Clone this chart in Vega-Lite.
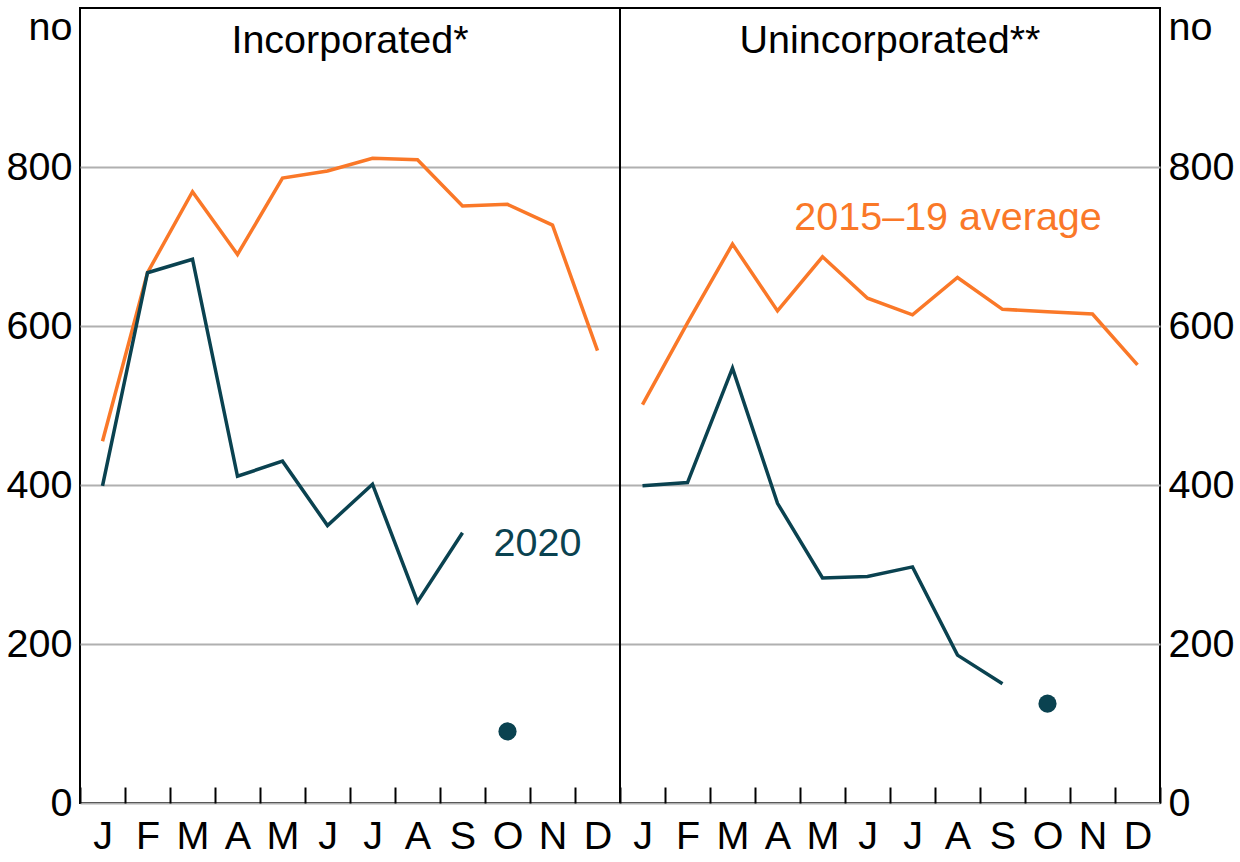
{
  "$schema": "https://vega.github.io/schema/vega-lite/v6.json",
  "width": 1080,
  "height": 795,
  "autosize": "none",
  "padding": {"left": 80, "top": 8, "right": 80, "bottom": 59},
  "background": "white",
  "config": {
    "font": "Liberation Sans",
    "view": {"stroke": "black", "strokeWidth": 2},
    "axis": {
      "labelFont": "Liberation Sans",
      "labelFontSize": 39.5,
      "labelColor": "black",
      "titleFont": "Liberation Sans",
      "titleFontSize": 39.5,
      "titleFontWeight": "normal",
      "titleColor": "black",
      "domain": false
    }
  },
  "datasets": {
    "lines": [
      {"panel": "Incorporated", "series": "2015–19 average", "slot": "I01", "value": 455},
      {"panel": "Incorporated", "series": "2015–19 average", "slot": "I02", "value": 667},
      {"panel": "Incorporated", "series": "2015–19 average", "slot": "I03", "value": 769},
      {"panel": "Incorporated", "series": "2015–19 average", "slot": "I04", "value": 690},
      {"panel": "Incorporated", "series": "2015–19 average", "slot": "I05", "value": 786},
      {"panel": "Incorporated", "series": "2015–19 average", "slot": "I06", "value": 795},
      {"panel": "Incorporated", "series": "2015–19 average", "slot": "I07", "value": 811},
      {"panel": "Incorporated", "series": "2015–19 average", "slot": "I08", "value": 809},
      {"panel": "Incorporated", "series": "2015–19 average", "slot": "I09", "value": 751},
      {"panel": "Incorporated", "series": "2015–19 average", "slot": "I10", "value": 753},
      {"panel": "Incorporated", "series": "2015–19 average", "slot": "I11", "value": 727},
      {"panel": "Incorporated", "series": "2015–19 average", "slot": "I12", "value": 569},
      {"panel": "Incorporated", "series": "2020", "slot": "I01", "value": 399},
      {"panel": "Incorporated", "series": "2020", "slot": "I02", "value": 667},
      {"panel": "Incorporated", "series": "2020", "slot": "I03", "value": 684},
      {"panel": "Incorporated", "series": "2020", "slot": "I04", "value": 411},
      {"panel": "Incorporated", "series": "2020", "slot": "I05", "value": 430},
      {"panel": "Incorporated", "series": "2020", "slot": "I06", "value": 349},
      {"panel": "Incorporated", "series": "2020", "slot": "I07", "value": 401},
      {"panel": "Incorporated", "series": "2020", "slot": "I08", "value": 253},
      {"panel": "Incorporated", "series": "2020", "slot": "I09", "value": 340},
      {"panel": "Unincorporated", "series": "2015–19 average", "slot": "U01", "value": 501},
      {"panel": "Unincorporated", "series": "2015–19 average", "slot": "U02", "value": 604},
      {"panel": "Unincorporated", "series": "2015–19 average", "slot": "U03", "value": 703},
      {"panel": "Unincorporated", "series": "2015–19 average", "slot": "U04", "value": 619},
      {"panel": "Unincorporated", "series": "2015–19 average", "slot": "U05", "value": 687},
      {"panel": "Unincorporated", "series": "2015–19 average", "slot": "U06", "value": 635},
      {"panel": "Unincorporated", "series": "2015–19 average", "slot": "U07", "value": 614},
      {"panel": "Unincorporated", "series": "2015–19 average", "slot": "U08", "value": 661},
      {"panel": "Unincorporated", "series": "2015–19 average", "slot": "U09", "value": 621},
      {"panel": "Unincorporated", "series": "2015–19 average", "slot": "U10", "value": 618},
      {"panel": "Unincorporated", "series": "2015–19 average", "slot": "U11", "value": 615},
      {"panel": "Unincorporated", "series": "2015–19 average", "slot": "U12", "value": 551},
      {"panel": "Unincorporated", "series": "2020", "slot": "U01", "value": 399},
      {"panel": "Unincorporated", "series": "2020", "slot": "U02", "value": 403},
      {"panel": "Unincorporated", "series": "2020", "slot": "U03", "value": 547},
      {"panel": "Unincorporated", "series": "2020", "slot": "U04", "value": 377},
      {"panel": "Unincorporated", "series": "2020", "slot": "U05", "value": 283},
      {"panel": "Unincorporated", "series": "2020", "slot": "U06", "value": 285},
      {"panel": "Unincorporated", "series": "2020", "slot": "U07", "value": 297},
      {"panel": "Unincorporated", "series": "2020", "slot": "U08", "value": 186},
      {"panel": "Unincorporated", "series": "2020", "slot": "U09", "value": 150}
    ],
    "points": [
      {"panel": "Incorporated", "series": "2020", "slot": "I10", "value": 90},
      {"panel": "Unincorporated", "series": "2020", "slot": "U10", "value": 125}
    ]
  },
  "resolve": {"axis": {"x": "independent", "y": "independent"}},
  "layer": [
    {
      "data": {"name": "lines"},
      "mark": {"type": "line", "strokeWidth": 3.5},
      "encoding": {
        "x": {
          "field": "slot",
          "type": "ordinal",
          "scale": {
            "type": "band",
            "domain": ["I01","I02","I03","I04","I05","I06","I07","I08","I09","I10","I11","I12","U01","U02","U03","U04","U05","U06","U07","U08","U09","U10","U11","U12"],
            "paddingInner": 0,
            "paddingOuter": 0
          },
          "axis": {
            "title": null,
            "tickBand": "extent",
            "tickSize": -16,
            "tickWidth": 2,
            "tickColor": "black",
            "labelPadding": 30,
            "labelAngle": 0,
            "grid": false,
            "labelExpr": "['J','F','M','A','M','J','J','A','S','O','N','D'][toNumber(substring(datum.value,1,3))-1]"
          }
        },
        "y": {
          "field": "value",
          "type": "quantitative",
          "scale": {"domain": [0, 1000], "nice": false},
          "axis": {
            "orient": "left",
            "values": [0, 200, 400, 600, 800],
            "grid": true,
            "gridColor": "#b0b0b0",
            "gridWidth": 2,
            "ticks": false,
            "labelPadding": 8,
            "title": "no",
            "titleAngle": 0,
            "titleAlign": "right",
            "titleBaseline": "middle",
            "titleX": -8,
            "titleY": 19
          }
        },
        "color": {
          "field": "series",
          "type": "nominal",
          "scale": {"domain": ["2015–19 average", "2020"], "range": ["#FA7828", "#0A4250"]},
          "legend": null
        },
        "detail": {"field": "panel"}
      }
    },
    {
      "data": {"name": "points"},
      "mark": {"type": "point", "filled": true, "size": 330, "opacity": 1, "color": "#0A4250"},
      "encoding": {
        "x": {"field": "slot", "type": "ordinal", "scale": {"type": "band"}, "axis": null},
        "y": {
          "field": "value",
          "type": "quantitative",
          "axis": {
            "orient": "right",
            "values": [0, 200, 400, 600, 800],
            "grid": false,
            "ticks": false,
            "labelPadding": 8,
            "title": "no",
            "titleAngle": 0,
            "titleAlign": "left",
            "titleBaseline": "middle",
            "titleX": 8,
            "titleY": 19
          }
        }
      }
    },
    {
      "data": {"values": [{"divider": "panel boundary"}]},
      "mark": {"type": "rule", "color": "black", "strokeWidth": 2},
      "encoding": {
        "x": {"datum": "U01", "type": "ordinal", "bandPosition": 0, "scale": {"type": "band"}, "axis": null}
      }
    },
    {
      "data": {"values": [{"label": "Incorporated*"}]},
      "mark": {"type": "text", "fontSize": 39.5, "baseline": "alphabetic", "align": "center", "color": "black"},
      "encoding": {
        "x": {"datum": "I07", "type": "ordinal", "bandPosition": 0, "scale": {"type": "band"}, "axis": null},
        "y": {"datum": 944, "type": "quantitative", "axis": null},
        "text": {"field": "label"}
      }
    },
    {
      "data": {"values": [{"label": "Unincorporated**"}]},
      "mark": {"type": "text", "fontSize": 39.5, "baseline": "alphabetic", "align": "center", "color": "black"},
      "encoding": {
        "x": {"datum": "U07", "type": "ordinal", "bandPosition": 0, "scale": {"type": "band"}, "axis": null},
        "y": {"datum": 944, "type": "quantitative", "axis": null},
        "text": {"field": "label"}
      }
    },
    {
      "data": {"values": [{"label": "2020"}]},
      "mark": {"type": "text", "fontSize": 39.5, "baseline": "alphabetic", "align": "center", "color": "#0A4250"},
      "encoding": {
        "x": {"datum": "I11", "type": "ordinal", "bandPosition": 0.167, "scale": {"type": "band"}, "axis": null},
        "y": {"datum": 311, "type": "quantitative", "axis": null},
        "text": {"field": "label"}
      }
    },
    {
      "data": {"values": [{"label": "2015–19 average"}]},
      "mark": {"type": "text", "fontSize": 39.5, "baseline": "alphabetic", "align": "center", "color": "#FA7828"},
      "encoding": {
        "x": {"datum": "U08", "type": "ordinal", "bandPosition": 0.29, "scale": {"type": "band"}, "axis": null},
        "y": {"datum": 721, "type": "quantitative", "axis": null},
        "text": {"field": "label"}
      }
    }
  ]
}
